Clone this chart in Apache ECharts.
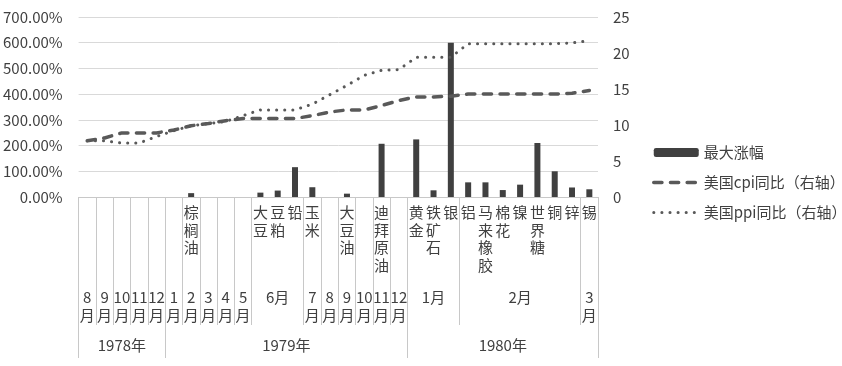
<!DOCTYPE html>
<html>
<head>
<meta charset="utf-8">
<script src="https://cdn.jsdelivr.net/npm/echarts@6/dist/echarts.min.js"></script>
<style>
html,body{margin:0;padding:0;background:#fff;}
#chart{width:842px;height:366px;}
</style>
</head>
<body>
<div id="chart"></div>
<script>
// ---- data ----
var commodities = ['', '', '', '', '', '', '棕榈油', '', '', '', '大豆', '豆粕', '铅', '玉米', '', '大豆油', '', '迪拜原油', '', '黄金', '铁矿石', '银', '铝', '马来橡胶', '棉花', '镍', '世界糖', '铜', '锌', '锡'];
var maxRise = [null, null, null, null, null, null, 15, null, null, null, 17, 25, 116, 38, null, 13, null, 207, null, 224, 26, 600, 57, 57, 27, 48, 210, 100, 37, 30];
var cpi = [7.8, 8.2, 8.9, 8.9, 8.9, 9.3, 9.9, 10.2, 10.6, 10.9, 10.9, 10.9, 10.9, 11.3, 11.8, 12.1, 12.1, 12.7, 13.4, 13.9, 13.9, 14.0, 14.3, 14.3, 14.3, 14.3, 14.3, 14.3, 14.4, 14.8];
var ppi = [7.8, 7.8, 7.5, 7.5, 8.4, 9.2, 9.9, 10.2, 10.5, 11.3, 12.1, 12.1, 12.1, 12.9, 14.2, 15.5, 16.9, 17.6, 17.7, 19.4, 19.4, 19.4, 21.3, 21.3, 21.3, 21.3, 21.3, 21.3, 21.4, 21.7];
var monthLabels = ['8月', '9月', '10月', '11月', '12月', '1月', '2月', '3月', '4月', '5月', '6月', '7月', '8月', '9月', '10月', '11月', '12月', '1月', '2月', '3月'];
var monthSpans = [1, 1, 1, 1, 1, 1, 1, 1, 1, 1, 3, 1, 1, 1, 1, 1, 1, 3, 7, 1];
var yearLabels = ['1978年', '1979年', '1980年'];
var yearSpans = [5, 14, 11];
var leftTicks = [0, 100, 200, 300, 400, 500, 600, 700];
var rightTicks = [0, 5, 10, 15, 20, 25];
var seriesNames = ['最大涨幅', '美国cpi同比（右轴）', '美国ppi同比（右轴）'];

// ---- derived group positions ----
function groups(labels, spans, wrapSingle) {
  var bounds = [0], centers = [], map = {}, pos = 0;
  for (var i = 0; i < spans.length; i++) {
    var c = pos + spans[i] / 2;
    centers.push(c);
    var t = labels[i];
    if (wrapSingle && spans[i] === 1) t = t.replace('月', '\n月');
    map[String(c)] = t;
    pos += spans[i];
    bounds.push(pos);
  }
  return {bounds: bounds, centers: centers, map: map, total: pos};
}
var mg = groups(monthLabels, monthSpans, true);
var yg = groups(yearLabels, yearSpans, false);

var FONT = "'Noto Sans CJK SC', 'Noto Sans', sans-serif";
var TXT = '#404040';
var GRID_LINE = '#c8c8c8';
var LINE_COLOR = '#595959';
var cpiStyle = {color: LINE_COLOR, width: 3.5, type: [8.2, 8.5], cap: 'round'};
var ppiStyle = {color: LINE_COLOR, width: 3, type: [0.1, 8], cap: 'round'};

var chart = echarts.init(document.getElementById('chart'), null, {renderer: 'canvas'});
chart.setOption({
  animation: false,
  backgroundColor: '#ffffff',
  textStyle: {fontFamily: FONT},
  grid: {left: 74, right: 244, top: 17, bottom: 169, containLabel: false},
  legend: {
    orient: 'vertical', left: 652, top: 144, padding: 0,
    itemWidth: 45, itemHeight: 9, itemGap: 13,
    textStyle: {fontSize: 15, lineHeight: 17, color: TXT, fontFamily: FONT},
    data: [
      {name: seriesNames[0]},
      {name: seriesNames[1], itemStyle: {opacity: 0}, lineStyle: cpiStyle},
      {name: seriesNames[2], itemStyle: {opacity: 0}, lineStyle: ppiStyle}
    ]
  },
  xAxis: [
    {
      type: 'category', data: commodities, position: 'bottom',
      axisLine: {show: true, lineStyle: {color: GRID_LINE, width: 1}},
      axisTick: {show: false},
      axisLabel: {
        interval: 0, margin: 7, fontSize: 15, lineHeight: 17.5, color: TXT, fontFamily: FONT,
        formatter: function (v) { return v.split('').join('\n'); }
      },
      splitLine: {show: false}
    },
    {
      type: 'value', min: 0, max: mg.total, position: 'bottom', offset: 0,
      axisLine: {show: false},
      axisTick: {show: true, inside: false, length: 128, customValues: mg.bounds, lineStyle: {color: GRID_LINE, width: 1}},
      axisLabel: {
        show: true, customValues: mg.centers, margin: 91, fontSize: 15, lineHeight: 18, color: TXT, fontFamily: FONT,
        verticalAlign: 'top', hideOverlap: false,
        formatter: function (v) { return mg.map[String(v)] || ''; }
      },
      splitLine: {show: false}
    },
    {
      type: 'value', min: 0, max: yg.total, position: 'bottom', offset: 0,
      axisLine: {show: false},
      axisTick: {show: true, inside: false, length: 161, customValues: yg.bounds, lineStyle: {color: GRID_LINE, width: 1}},
      axisLabel: {
        show: true, customValues: yg.centers, margin: 141, fontSize: 15, color: TXT, fontFamily: FONT,
        verticalAlign: 'top', hideOverlap: false,
        formatter: function (v) { return yg.map[String(v)] || ''; }
      },
      splitLine: {show: false}
    }
  ],
  yAxis: [
    {
      type: 'value', min: leftTicks[0], max: leftTicks[leftTicks.length - 1], interval: leftTicks[1] - leftTicks[0],
      axisLine: {show: false}, axisTick: {show: false},
      axisLabel: {margin: 16, fontSize: 15, color: TXT, fontFamily: FONT,
        formatter: function (v) { return v.toFixed(2) + '%'; }},
      splitLine: {show: true, lineStyle: {color: '#d9d9d9', width: 1}}
    },
    {
      type: 'value', position: 'right', min: rightTicks[0], max: rightTicks[rightTicks.length - 1], interval: rightTicks[1] - rightTicks[0],
      axisLine: {show: false}, axisTick: {show: false},
      axisLabel: {margin: 15, fontSize: 15, color: TXT, fontFamily: FONT},
      splitLine: {show: false}
    }
  ],
  series: [
    {
      name: seriesNames[0], type: 'bar', xAxisIndex: 0, yAxisIndex: 0,
      data: maxRise, barWidth: 6,
      itemStyle: {color: '#404040'}
    },
    {
      name: seriesNames[1], type: 'line', xAxisIndex: 0, yAxisIndex: 1,
      data: cpi, symbol: 'none', showSymbol: false,
      itemStyle: {color: LINE_COLOR},
      lineStyle: cpiStyle
    },
    {
      name: seriesNames[2], type: 'line', xAxisIndex: 0, yAxisIndex: 1,
      data: ppi, symbol: 'none', showSymbol: false,
      itemStyle: {color: LINE_COLOR},
      lineStyle: ppiStyle
    }
  ]
});
</script>
</body>
</html>
